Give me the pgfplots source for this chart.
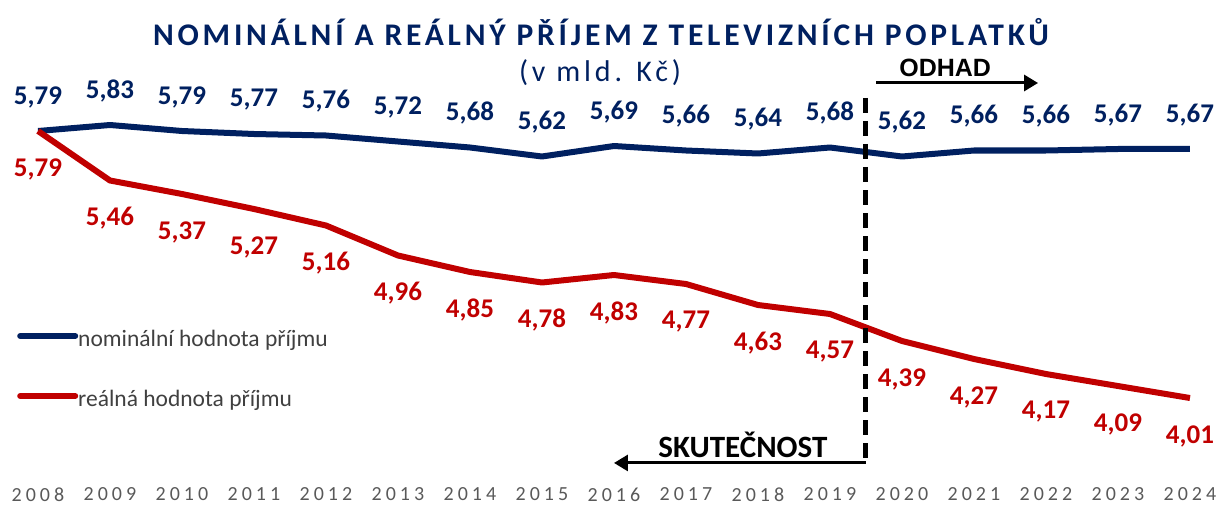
\documentclass[border=0pt]{standalone}
\usepackage{fontspec}
\setmainfont{Carlito}
\newfontfamily\titlefont[LetterSpace=12]{Carlito}
\newfontfamily\subfont[LetterSpace=13]{Carlito}
\newfontfamily\yearfont[LetterSpace=20]{Carlito}
\newfontfamily\odhadfont{Liberation Sans}
\usepackage{pgfplots}
\usepackage{pgfplotstable}
\pgfplotsset{compat=1.18}
\usetikzlibrary{arrows.meta}
\definecolor{navy}{HTML}{002060}
\definecolor{dred}{HTML}{C00000}
\definecolor{gtext}{HTML}{404040}
\definecolor{gyear}{HTML}{595959}

\pgfplotstableread{
x nom real
0 5.79 5.79
1 5.83 5.46
2 5.79 5.37
3 5.77 5.27
4 5.76 5.16
5 5.72 4.96
6 5.68 4.85
7 5.62 4.78
8 5.69 4.83
9 5.66 4.77
10 5.64 4.63
11 5.68 4.57
12 5.62 4.39
13 5.66 4.27
14 5.66 4.17
15 5.67 4.09
16 5.67 4.01
}\data

\begin{document}
\begin{tikzpicture}
\begin{axis}[
  at={(38pt,25pt)}, anchor=south west,
  scale only axis, width=1152pt, height=464pt,
  xmin=0, xmax=16, ymin=3.4367, ymax=6.53,
  axis line style={draw=none},
  ytick=\empty,
  xtick={0,...,16},
  xticklabels={2008,2009,2010,2011,2012,2013,2014,2015,2016,2017,2018,2019,2020,2021,2022,2023,2024},
  major tick length=0pt,
  xticklabel style={font=\yearfont\fontsize{20}{24}\selectfont, text=gyear},
  clip=false,
  /pgf/number format/use comma,
  /pgf/number format/fixed,
  /pgf/number format/fixed zerofill,
  /pgf/number format/precision=2,
  /pgf/number format/assume math mode=true,
  legend style={at={(axis description cs:-0.0182,0.2435)}, anchor=west,
    draw=none, fill=none, inner sep=0pt, row sep=37pt, column sep=0pt,
    nodes={inner sep=0pt, text height=17pt, text depth=6pt,
      font=\fontsize{23.5}{28}\selectfont, text=gtext}},
  legend cell align=left,
  legend image code/.code={\draw[#1, line width=6pt, line cap=round] (0pt,5pt) -- (55pt,5pt);},
]
\addplot[navy, line width=6pt, line join=round,
  nodes near coords,
  every node near coord/.append style={anchor=center, yshift=34pt,
    font=\fontsize{27}{30}\selectfont\bfseries, text=navy}]
  table[x=x,y=nom]{\data};
\addplot[dred, line width=6pt, line join=round,
  nodes near coords,
  every node near coord/.append style={anchor=center, yshift=-38pt,
    font=\fontsize{27}{30}\selectfont\bfseries, text=dred}]
  table[x=x,y=real]{\data};
\legend{nominální hodnota příjmu, reálná hodnota příjmu}

\draw[black, line width=5pt, dash pattern=on 15pt off 8pt] (axis cs:11.5,6.01) -- (axis cs:11.5,3.583);
\draw[black, line width=3pt, -{Triangle[length=14pt,width=16pt]}] (axis cs:11.64,6.11) -- (axis cs:13.89,6.11);
\draw[black, line width=3pt, -{Triangle[length=14pt,width=16pt]}] (axis cs:11.5,3.577) -- (axis cs:8.0,3.577);
\node[font=\odhadfont\bfseries\fontsize{25}{30}\selectfont] at (axis cs:12.6,6.21) {ODHAD};
\node[font=\fontsize{31}{34}\selectfont\bfseries] at (axis cs:9.79,3.697) {SKUTEČNOST};
\end{axis}
\node[font=\titlefont\bfseries\fontsize{31.5}{36}\selectfont, text=navy] at (601pt,477pt) {NOMINÁLNÍ A REÁLNÝ PŘÍJEM Z TELEVIZNÍCH POPLATKŮ};
\node[font=\subfont\fontsize{30}{34}\selectfont, text=navy] at (600pt,436pt) {(v mld. Kč)};
\pgfresetboundingbox
\useasboundingbox (0,0) rectangle (1217pt,509pt);
\end{tikzpicture}
\end{document}
